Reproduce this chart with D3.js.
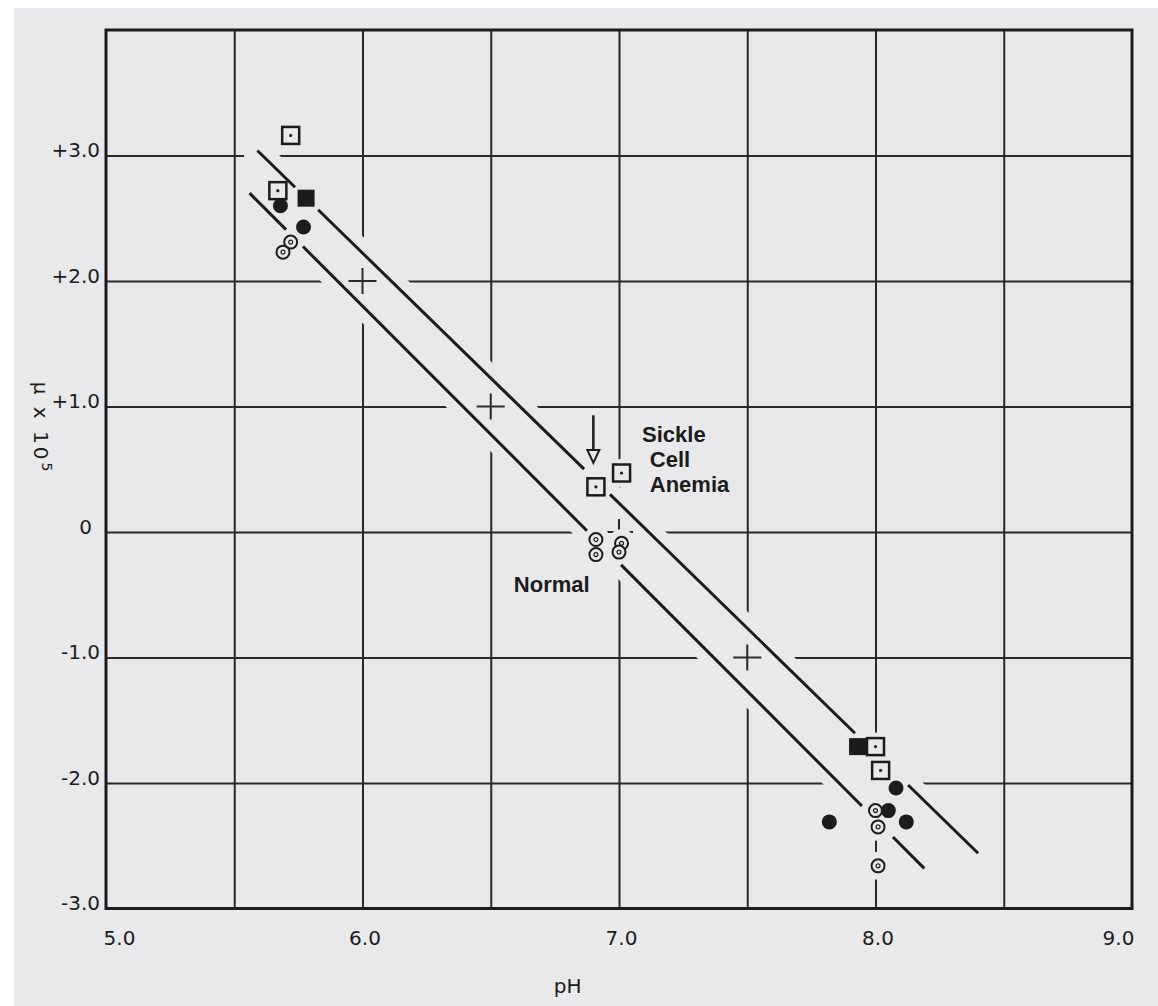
<!DOCTYPE html>
<html>
<head>
<meta charset="utf-8">
<script src="https://cdn.jsdelivr.net/npm/d3@7"></script>
<style>
  body { margin: 0; background: #fff; }
  .tick-label { font-family: "DejaVu Sans", sans-serif; font-size: 20px; fill: #1c1c1c; }
  .note { font-family: "Liberation Sans", Arial, sans-serif; font-size: 22px; font-weight: bold; fill: #1c1c1c; }
</style>
</head>
<body>
<svg id="chart"></svg>
<script>
// ---- data ----
let xTicks = [5.0, 6.0, 7.0, 8.0, 9.0];
let yTicks = [3, 2, 1, 0, -1, -2, -3];
let yTickLabels = ['+3.0', '+2.0', '+1.0', '0', '-1.0', '-2.0', '-3.0'];
let xGrid = [5.5, 6.0, 6.5, 7.0, 7.5, 8.0, 8.5];
let yGrid = [3, 2, 1, 0, -1, -2, -3];

// sickle cell anemia: open squares (dotted) and filled squares
let sickleOpen = [[5.72, 3.16], [5.67, 2.72], [6.91, 0.36], [7.01, 0.47], [8.00, -1.71], [8.02, -1.90]];
let sickleFilled = [[5.78, 2.66], [7.93, -1.71]];
// normal: open circles (dotted) and filled circles
let normalOpen = [[5.72, 2.31], [5.69, 2.23], [6.91, -0.06], [6.91, -0.18], [7.01, -0.09], [7.00, -0.16],
                  [8.00, -2.22], [8.01, -2.35], [8.01, -2.66]];
let normalFilled = [[5.68, 2.60], [5.77, 2.43], [8.08, -2.04], [8.05, -2.22], [7.82, -2.31], [8.12, -2.31]];

// fitted lines (end points, pH / mobility) and the visible pieces between the marks
let sickleFit = [[5.59, 3.04], [8.40, -2.56]];
let normalFit = [[5.56, 2.70], [8.19, -2.68]];
let sickleSegments = [[5.59, 5.737], [5.827, 6.864], [6.965, 7.92], [8.127, 8.40]];
let normalSegments = [[5.56, 5.702], [5.768, 6.875], [7.008, 7.947], [8.068, 8.19]];

// grid crossings kept inside the band between the lines
let crossings = [[6.0, 2], [6.5, 1], [7.0, 0], [7.5, -1]];
let arrowPh = 6.90, arrowFrom = 0.93, arrowTo = 0.55;

// ---- layout ----
let W = 1158, H = 1006;
let bg = '#e9e9eb', ink = '#1c1c1c';
let x = d3.scaleLinear().domain([5, 9]).range([106, 1132]);
let y = d3.scaleLinear().domain([-3, 4]).range([908.5, 30]);

let svg = d3.select('#chart').attr('width', W).attr('height', H);

// 纸张
svg.append('rect').attr('x', 14).attr('y', 8).attr('width', W - 14).attr('height', H - 8).attr('fill', bg);

// 网格
let plot = svg.append('g');
plot.append('g')
  .attr('transform', `translate(0,${y(-3)})`)
  .call(d3.axisBottom(x).tickValues(xGrid).tickSize(y(4) - y(-3)).tickFormat(''))
  .call(g => g.select('.domain').remove())
  .selectAll('line').attr('stroke', '#2a2a2a').attr('stroke-width', 2);
plot.append('g')
  .attr('transform', `translate(${x(5)},0)`)
  .call(d3.axisLeft(y).tickValues(yGrid).tickSize(x(5) - x(9)).tickFormat(''))
  .call(g => g.select('.domain').remove())
  .selectAll('line').attr('stroke', '#2a2a2a').attr('stroke-width', 2);

// erase the grid in the band around the two lines
let band = [sickleFit[0], sickleFit[1], normalFit[1], normalFit[0]].map(d => [x(d[0]), y(d[1])]);
svg.append('path')
  .attr('d', 'M' + band.join('L') + 'Z')
  .attr('fill', bg).attr('stroke', bg)
  .attr('stroke-width', 24).attr('stroke-linejoin', 'round');

// small crosses left at the grid intersections
let cross = svg.append('g').attr('stroke', '#2a2a2a').attr('stroke-width', 2);
crossings.forEach(d => {
  cross.append('line').attr('x1', x(d[0]) - 14).attr('x2', x(d[0]) + 14).attr('y1', y(d[1])).attr('y2', y(d[1]));
  cross.append('line').attr('x1', x(d[0])).attr('x2', x(d[0])).attr('y1', y(d[1]) - 13).attr('y2', y(d[1]) + 13);
});

// halos under the marks
let allPts = sickleOpen.concat(sickleFilled, normalOpen, normalFilled);
svg.append('g').selectAll('circle').data(allPts).enter().append('circle')
  .attr('cx', d => x(d[0])).attr('cy', d => y(d[1])).attr('r', 14).attr('fill', bg);

// 外框
svg.append('rect')
  .attr('x', x(5)).attr('y', y(4))
  .attr('width', x(9) - x(5)).attr('height', y(-3) - y(4))
  .attr('fill', 'none').attr('stroke', ink).attr('stroke-width', 3);

// fitted lines, drawn piece by piece
function fitValue(fit, ph) {
  let t = (ph - fit[0][0]) / (fit[1][0] - fit[0][0]);
  return fit[0][1] + t * (fit[1][1] - fit[0][1]);
}
function drawFit(fit, segs) {
  svg.append('g').selectAll('line').data(segs).enter().append('line')
    .attr('x1', d => x(d[0])).attr('y1', d => y(fitValue(fit, d[0])))
    .attr('x2', d => x(d[1])).attr('y2', d => y(fitValue(fit, d[1])))
    .attr('stroke', ink).attr('stroke-width', 3);
}
drawFit(sickleFit, sickleSegments);
drawFit(normalFit, normalSegments);

// 数据点
let sq = 17;
let gOpenSq = svg.append('g').selectAll('g').data(sickleOpen).enter().append('g')
  .attr('transform', d => `translate(${x(d[0])},${y(d[1])})`);
gOpenSq.append('rect').attr('x', -sq / 2).attr('y', -sq / 2).attr('width', sq).attr('height', sq)
  .attr('fill', bg).attr('stroke', ink).attr('stroke-width', 2.5);
gOpenSq.append('circle').attr('r', 1.6).attr('fill', ink);

svg.append('g').selectAll('rect').data(sickleFilled).enter().append('rect')
  .attr('x', d => x(d[0]) - sq / 2).attr('y', d => y(d[1]) - sq / 2)
  .attr('width', sq).attr('height', sq).attr('fill', ink);

let gOpenC = svg.append('g').selectAll('g').data(normalOpen).enter().append('g')
  .attr('transform', d => `translate(${x(d[0])},${y(d[1])})`);
gOpenC.append('circle').attr('r', 6.5).attr('fill', bg).attr('stroke', ink).attr('stroke-width', 2);
gOpenC.append('circle').attr('r', 2).attr('fill', 'none').attr('stroke', ink).attr('stroke-width', 1.2);

svg.append('g').selectAll('circle').data(normalFilled).enter().append('circle')
  .attr('cx', d => x(d[0])).attr('cy', d => y(d[1])).attr('r', 7.5).attr('fill', ink);

// arrow
let ax = x(arrowPh), a0 = y(arrowFrom), a1 = y(arrowTo);
svg.append('line').attr('x1', ax).attr('x2', ax).attr('y1', a0).attr('y2', a1 - 12)
  .attr('stroke', ink).attr('stroke-width', 2.5);
svg.append('path')
  .attr('d', `M${ax - 6},${a1 - 13}L${ax + 6},${a1 - 13}L${ax},${a1}Z`)
  .attr('fill', bg).attr('stroke', ink).attr('stroke-width', 2);

// annotations
let notes = svg.append('g').attr('class', 'note');
notes.append('text').attr('x', x(7.09)).attr('y', y(0.72)).text('Sickle');
notes.append('text').attr('x', x(7.12)).attr('y', y(0.52)).text('Cell');
notes.append('text').attr('x', x(7.12)).attr('y', y(0.32)).text('Anemia');
notes.append('text').attr('x', x(6.59)).attr('y', y(-0.48)).text('Normal');

// 坐标轴标签
let xAxis = svg.append('g')
  .attr('transform', `translate(0,${y(-3)})`)
  .call(d3.axisBottom(x).tickValues(xTicks).tickSize(0).tickPadding(22).tickFormat(d3.format('.1f')));
xAxis.select('.domain').remove();
xAxis.selectAll('text').attr('class', 'tick-label').attr('font-size', null).attr('font-family', null)
  .attr('dx', (d, i) => i === 0 ? 13 : (i === xTicks.length - 1 ? -14 : 2));

let yAxis = svg.append('g')
  .attr('transform', `translate(${x(5)},0)`)
  .call(d3.axisLeft(y).tickValues(yTicks).tickSize(0).tickPadding(6).tickFormat((d, i) => yTickLabels[i]));
yAxis.select('.domain').remove();
yAxis.selectAll('text').attr('class', 'tick-label').attr('font-size', null).attr('font-family', null)
  .attr('y', -5).attr('dx', d => d === 0 ? -8 : 0);

svg.append('text').attr('class', 'tick-label')
  .attr('x', x(6.8)).attr('y', 993).attr('text-anchor', 'middle').text('pH');

let yl = svg.append('text').attr('class', 'tick-label')
  .attr('transform', 'translate(34,428) rotate(90)').attr('text-anchor', 'middle')
  .style('letter-spacing', '3px');
yl.append('tspan').text('μ x 10');
yl.append('tspan').attr('dy', -8).attr('font-size', 14).text('5');
</script>
</body>
</html>
